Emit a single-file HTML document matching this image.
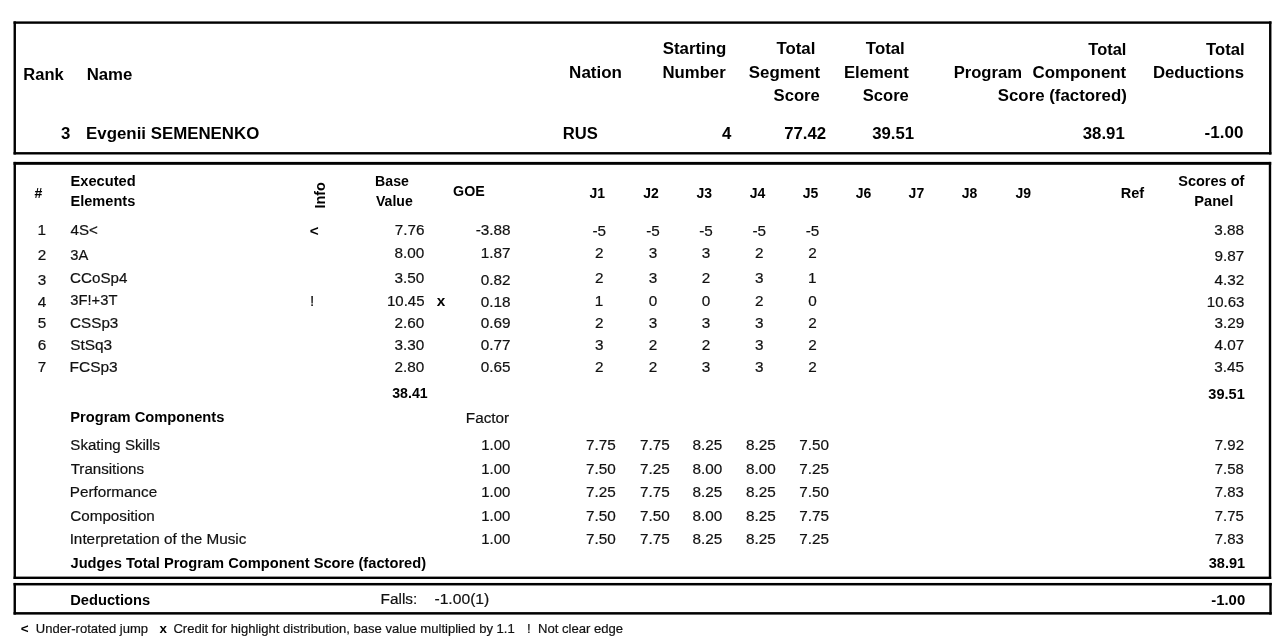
<!DOCTYPE html>
<html><head><meta charset="utf-8"><title>Judges Details per Skater</title>
<style>
html,body{margin:0;padding:0;background:#fff;width:1280px;height:639px;overflow:hidden}
svg{display:block;will-change:transform}
text{font-family:"Liberation Sans",Arial,Helvetica,sans-serif;fill:#000}
.b{font-weight:bold}
.r{font-weight:normal;fill:#111;stroke:#111;stroke-width:0.2px}
</style></head><body>
<svg width="1280" height="639" viewBox="0 0 1280 639">
<rect width="1280" height="639" fill="#fff"/>
<rect x="13.55" y="21.40" width="1257.90" height="2.40" fill="#000"/>
<rect x="13.55" y="152.10" width="1257.90" height="2.40" fill="#000"/>
<rect x="13.55" y="21.40" width="2.40" height="133.10" fill="#000"/>
<rect x="1269.05" y="21.40" width="2.40" height="133.10" fill="#000"/>
<rect x="13.55" y="161.90" width="1257.65" height="2.90" fill="#000"/>
<rect x="13.55" y="576.60" width="1257.65" height="2.40" fill="#000"/>
<rect x="13.55" y="161.90" width="2.40" height="417.10" fill="#000"/>
<rect x="1268.80" y="161.90" width="2.40" height="417.10" fill="#000"/>
<rect x="13.55" y="582.95" width="1258.15" height="2.50" fill="#000"/>
<rect x="13.55" y="612.10" width="1258.15" height="2.50" fill="#000"/>
<rect x="13.55" y="582.95" width="2.40" height="31.65" fill="#000"/>
<rect x="1269.30" y="582.95" width="2.40" height="31.65" fill="#000"/>
<text class="b" font-size="16.8" x="23.35" y="79.70" textLength="40.39" lengthAdjust="spacingAndGlyphs">Rank</text>
<text class="b" font-size="16.8" x="86.63" y="79.70" textLength="45.70" lengthAdjust="spacingAndGlyphs">Name</text>
<text class="b" font-size="16.8" x="569.11" y="77.60" textLength="52.89" lengthAdjust="spacingAndGlyphs">Nation</text>
<text class="b" font-size="16.8" x="662.66" y="54.20" textLength="63.71" lengthAdjust="spacingAndGlyphs">Starting</text>
<text class="b" font-size="16.8" x="662.43" y="77.60" textLength="63.27" lengthAdjust="spacingAndGlyphs">Number</text>
<text class="b" font-size="16.8" x="776.47" y="54.00" textLength="38.94" lengthAdjust="spacingAndGlyphs">Total</text>
<text class="b" font-size="16.8" x="748.86" y="77.60" textLength="71.29" lengthAdjust="spacingAndGlyphs">Segment</text>
<text class="b" font-size="16.8" x="773.57" y="101.00" textLength="46.25" lengthAdjust="spacingAndGlyphs">Score</text>
<text class="b" font-size="16.8" x="865.87" y="54.00" textLength="38.94" lengthAdjust="spacingAndGlyphs">Total</text>
<text class="b" font-size="16.8" x="843.94" y="77.60" textLength="64.82" lengthAdjust="spacingAndGlyphs">Element</text>
<text class="b" font-size="16.8" x="862.77" y="101.00" textLength="46.04" lengthAdjust="spacingAndGlyphs">Score</text>
<text class="b" font-size="16.8" x="1088.37" y="54.50" textLength="38.01" lengthAdjust="spacingAndGlyphs">Total</text>
<text class="b" font-size="16.8" x="953.64" y="77.50" textLength="68.39" lengthAdjust="spacingAndGlyphs">Program</text>
<text class="b" font-size="16.8" x="1032.56" y="77.50" textLength="93.65" lengthAdjust="spacingAndGlyphs">Component</text>
<text class="b" font-size="16.8" x="997.77" y="100.90" textLength="129.07" lengthAdjust="spacingAndGlyphs">Score (factored)</text>
<text class="b" font-size="16.8" x="1206.07" y="54.50" textLength="38.57" lengthAdjust="spacingAndGlyphs">Total</text>
<text class="b" font-size="16.8" x="1152.88" y="77.50" textLength="91.31" lengthAdjust="spacingAndGlyphs">Deductions</text>
<text class="b" font-size="16.8" x="60.99" y="138.80">3</text>
<text class="b" font-size="16.8" x="86.12" y="138.80" textLength="173.13" lengthAdjust="spacingAndGlyphs">Evgenii SEMENENKO</text>
<text class="b" font-size="16.8" x="562.84" y="138.70" textLength="35.06" lengthAdjust="spacingAndGlyphs">RUS</text>
<text class="b" font-size="16.8" x="721.90" y="138.70">4</text>
<text class="b" font-size="16.8" x="784.13" y="138.60" textLength="42.10" lengthAdjust="spacingAndGlyphs">77.42</text>
<text class="b" font-size="16.8" x="872.16" y="138.70" textLength="42.04" lengthAdjust="spacingAndGlyphs">39.51</text>
<text class="b" font-size="16.8" x="1082.76" y="138.70" textLength="42.04" lengthAdjust="spacingAndGlyphs">38.91</text>
<text class="b" font-size="16.8" x="1204.59" y="137.50" textLength="38.76" lengthAdjust="spacingAndGlyphs">-1.00</text>
<text class="b" font-size="14" x="34.40" y="198.30">#</text>
<text class="b" font-size="14" x="70.47" y="186.00" textLength="65.15" lengthAdjust="spacingAndGlyphs">Executed</text>
<text class="b" font-size="14" x="70.48" y="205.70" textLength="64.77" lengthAdjust="spacingAndGlyphs">Elements</text>
<text class="b" font-size="14" transform="translate(325.00 208.51) rotate(-90)" textLength="26.43" lengthAdjust="spacingAndGlyphs">Info</text>
<text class="b" font-size="14" x="375.11" y="186.40" textLength="33.73" lengthAdjust="spacingAndGlyphs">Base</text>
<text class="b" font-size="14" x="375.96" y="205.80" textLength="36.77" lengthAdjust="spacingAndGlyphs">Value</text>
<text class="b" font-size="14" x="453.07" y="195.80" textLength="31.64" lengthAdjust="spacingAndGlyphs">GOE</text>
<text class="b" font-size="14" x="589.40" y="197.80" textLength="15.57" lengthAdjust="spacingAndGlyphs">J1</text>
<text class="b" font-size="14" x="643.29" y="197.80" textLength="15.57" lengthAdjust="spacingAndGlyphs">J2</text>
<text class="b" font-size="14" x="696.56" y="197.80" textLength="15.57" lengthAdjust="spacingAndGlyphs">J3</text>
<text class="b" font-size="14" x="749.80" y="197.80" textLength="15.57" lengthAdjust="spacingAndGlyphs">J4</text>
<text class="b" font-size="14" x="802.80" y="197.80" textLength="15.57" lengthAdjust="spacingAndGlyphs">J5</text>
<text class="b" font-size="14" x="855.76" y="197.80" textLength="15.57" lengthAdjust="spacingAndGlyphs">J6</text>
<text class="b" font-size="14" x="908.62" y="197.80" textLength="15.57" lengthAdjust="spacingAndGlyphs">J7</text>
<text class="b" font-size="14" x="961.72" y="197.80" textLength="15.57" lengthAdjust="spacingAndGlyphs">J8</text>
<text class="b" font-size="14" x="1015.47" y="197.80" textLength="15.57" lengthAdjust="spacingAndGlyphs">J9</text>
<text class="b" font-size="14" x="1120.78" y="197.50" textLength="23.44" lengthAdjust="spacingAndGlyphs">Ref</text>
<text class="b" font-size="14" x="1178.23" y="186.20" textLength="66.24" lengthAdjust="spacingAndGlyphs">Scores of</text>
<text class="b" font-size="14" x="1194.27" y="205.50" textLength="39.01" lengthAdjust="spacingAndGlyphs">Panel</text>
<text class="r" font-size="15.3" x="37.54" y="235.40">1</text>
<text class="r" font-size="15.3" x="70.50" y="235.40" textLength="27.28" lengthAdjust="spacingAndGlyphs">4S&lt;</text>
<text class="r" font-size="15.3" x="37.75" y="260.40">2</text>
<text class="r" font-size="15.3" x="70.29" y="260.40" textLength="17.99" lengthAdjust="spacingAndGlyphs">3A</text>
<text class="r" font-size="15.3" x="37.79" y="284.70">3</text>
<text class="r" font-size="15.3" x="70.08" y="282.90" textLength="57.31" lengthAdjust="spacingAndGlyphs">CCoSp4</text>
<text class="r" font-size="15.3" x="37.79" y="307.20">4</text>
<text class="r" font-size="15.3" x="70.29" y="305.30" textLength="47.10" lengthAdjust="spacingAndGlyphs">3F!+3T</text>
<text class="r" font-size="15.3" x="37.76" y="327.80">5</text>
<text class="r" font-size="15.3" x="70.08" y="327.80" textLength="48.24" lengthAdjust="spacingAndGlyphs">CSSp3</text>
<text class="r" font-size="15.3" x="37.69" y="350.40">6</text>
<text class="r" font-size="15.3" x="70.15" y="350.40" textLength="41.98" lengthAdjust="spacingAndGlyphs">StSq3</text>
<text class="r" font-size="15.3" x="37.74" y="371.80">7</text>
<text class="r" font-size="15.3" x="69.58" y="371.80" textLength="48.15" lengthAdjust="spacingAndGlyphs">FCSp3</text>
<text class="b" font-size="15.3" x="309.72" y="235.50">&lt;</text>
<text class="r" font-size="15.3" x="309.98" y="305.70">!</text>
<text class="r" font-size="15.3" x="394.64" y="234.80" textLength="29.78" lengthAdjust="spacingAndGlyphs">7.76</text>
<text class="r" font-size="15.3" x="475.64" y="234.80" textLength="34.87" lengthAdjust="spacingAndGlyphs">-3.88</text>
<text class="r" font-size="15.3" x="394.57" y="257.80" textLength="29.78" lengthAdjust="spacingAndGlyphs">8.00</text>
<text class="r" font-size="15.3" x="480.84" y="257.80" textLength="29.78" lengthAdjust="spacingAndGlyphs">1.87</text>
<text class="r" font-size="15.3" x="394.57" y="283.00" textLength="29.78" lengthAdjust="spacingAndGlyphs">3.50</text>
<text class="r" font-size="15.3" x="480.84" y="284.60" textLength="29.78" lengthAdjust="spacingAndGlyphs">0.82</text>
<text class="r" font-size="15.3" x="387.01" y="305.50" textLength="37.57" lengthAdjust="spacingAndGlyphs">10.45</text>
<text class="r" font-size="15.3" x="480.74" y="307.20" textLength="29.78" lengthAdjust="spacingAndGlyphs">0.18</text>
<text class="r" font-size="15.3" x="394.57" y="327.80" textLength="29.78" lengthAdjust="spacingAndGlyphs">2.60</text>
<text class="r" font-size="15.3" x="480.80" y="327.80" textLength="29.78" lengthAdjust="spacingAndGlyphs">0.69</text>
<text class="r" font-size="15.3" x="394.57" y="350.40" textLength="29.78" lengthAdjust="spacingAndGlyphs">3.30</text>
<text class="r" font-size="15.3" x="480.84" y="350.40" textLength="29.78" lengthAdjust="spacingAndGlyphs">0.77</text>
<text class="r" font-size="15.3" x="394.57" y="371.80" textLength="29.78" lengthAdjust="spacingAndGlyphs">2.80</text>
<text class="r" font-size="15.3" x="480.71" y="371.80" textLength="29.78" lengthAdjust="spacingAndGlyphs">0.65</text>
<text class="b" font-size="15.3" x="436.65" y="305.50">x</text>
<text class="b" font-size="14" x="392.23" y="398.00" textLength="35.42" lengthAdjust="spacingAndGlyphs">38.41</text>
<text class="r" font-size="15.3" x="592.48" y="235.50" textLength="13.60" lengthAdjust="spacingAndGlyphs">-5</text>
<text class="r" font-size="15.3" x="646.18" y="235.50" textLength="13.60" lengthAdjust="spacingAndGlyphs">-5</text>
<text class="r" font-size="15.3" x="699.18" y="235.50" textLength="13.60" lengthAdjust="spacingAndGlyphs">-5</text>
<text class="r" font-size="15.3" x="752.38" y="235.50" textLength="13.60" lengthAdjust="spacingAndGlyphs">-5</text>
<text class="r" font-size="15.3" x="805.68" y="235.50" textLength="13.60" lengthAdjust="spacingAndGlyphs">-5</text>
<text class="r" font-size="15.3" x="595.05" y="258.00">2</text>
<text class="r" font-size="15.3" x="648.79" y="258.00">3</text>
<text class="r" font-size="15.3" x="701.79" y="258.00">3</text>
<text class="r" font-size="15.3" x="754.95" y="258.00">2</text>
<text class="r" font-size="15.3" x="808.25" y="258.00">2</text>
<text class="r" font-size="15.3" x="595.05" y="283.00">2</text>
<text class="r" font-size="15.3" x="648.79" y="283.00">3</text>
<text class="r" font-size="15.3" x="701.75" y="283.00">2</text>
<text class="r" font-size="15.3" x="754.99" y="283.00">3</text>
<text class="r" font-size="15.3" x="808.04" y="283.00">1</text>
<text class="r" font-size="15.3" x="594.84" y="305.50">1</text>
<text class="r" font-size="15.3" x="648.75" y="305.50">0</text>
<text class="r" font-size="15.3" x="701.75" y="305.50">0</text>
<text class="r" font-size="15.3" x="754.95" y="305.50">2</text>
<text class="r" font-size="15.3" x="808.25" y="305.50">0</text>
<text class="r" font-size="15.3" x="595.05" y="328.00">2</text>
<text class="r" font-size="15.3" x="648.79" y="328.00">3</text>
<text class="r" font-size="15.3" x="701.79" y="328.00">3</text>
<text class="r" font-size="15.3" x="754.99" y="328.00">3</text>
<text class="r" font-size="15.3" x="808.25" y="328.00">2</text>
<text class="r" font-size="15.3" x="595.09" y="350.40">3</text>
<text class="r" font-size="15.3" x="648.75" y="350.40">2</text>
<text class="r" font-size="15.3" x="701.75" y="350.40">2</text>
<text class="r" font-size="15.3" x="754.99" y="350.40">3</text>
<text class="r" font-size="15.3" x="808.25" y="350.40">2</text>
<text class="r" font-size="15.3" x="595.05" y="371.90">2</text>
<text class="r" font-size="15.3" x="648.75" y="371.90">2</text>
<text class="r" font-size="15.3" x="701.79" y="371.90">3</text>
<text class="r" font-size="15.3" x="754.99" y="371.90">3</text>
<text class="r" font-size="15.3" x="808.25" y="371.90">2</text>
<text class="r" font-size="15.3" x="1214.34" y="234.70" textLength="29.78" lengthAdjust="spacingAndGlyphs">3.88</text>
<text class="r" font-size="15.3" x="1214.44" y="260.80" textLength="29.78" lengthAdjust="spacingAndGlyphs">9.87</text>
<text class="r" font-size="15.3" x="1214.44" y="284.70" textLength="29.78" lengthAdjust="spacingAndGlyphs">4.32</text>
<text class="r" font-size="15.3" x="1206.81" y="307.20" textLength="37.50" lengthAdjust="spacingAndGlyphs">10.63</text>
<text class="r" font-size="15.3" x="1214.40" y="327.90" textLength="29.78" lengthAdjust="spacingAndGlyphs">3.29</text>
<text class="r" font-size="15.3" x="1214.44" y="350.20" textLength="29.78" lengthAdjust="spacingAndGlyphs">4.07</text>
<text class="r" font-size="15.3" x="1214.31" y="371.80" textLength="29.78" lengthAdjust="spacingAndGlyphs">3.45</text>
<text class="b" font-size="14" x="1208.32" y="398.50" textLength="36.44" lengthAdjust="spacingAndGlyphs">39.51</text>
<text class="b" font-size="14" x="70.27" y="421.60" textLength="154.08" lengthAdjust="spacingAndGlyphs">Program Components</text>
<text class="r" font-size="15.3" x="465.79" y="422.50" textLength="43.41" lengthAdjust="spacingAndGlyphs">Factor</text>
<text class="r" font-size="15.3" x="70.36" y="449.80" textLength="89.73" lengthAdjust="spacingAndGlyphs">Skating Skills</text>
<text class="r" font-size="15.3" x="481.31" y="449.80" textLength="29.02" lengthAdjust="spacingAndGlyphs">1.00</text>
<text class="r" font-size="15.3" x="586.04" y="449.90" textLength="29.78" lengthAdjust="spacingAndGlyphs">7.75</text>
<text class="r" font-size="15.3" x="640.04" y="449.90" textLength="29.78" lengthAdjust="spacingAndGlyphs">7.75</text>
<text class="r" font-size="15.3" x="692.60" y="449.90" textLength="29.78" lengthAdjust="spacingAndGlyphs">8.25</text>
<text class="r" font-size="15.3" x="746.10" y="449.90" textLength="29.78" lengthAdjust="spacingAndGlyphs">8.25</text>
<text class="r" font-size="15.3" x="799.32" y="449.90" textLength="29.78" lengthAdjust="spacingAndGlyphs">7.50</text>
<text class="r" font-size="15.3" x="1214.78" y="449.60" textLength="29.23" lengthAdjust="spacingAndGlyphs">7.92</text>
<text class="r" font-size="15.3" x="70.71" y="473.90" textLength="73.28" lengthAdjust="spacingAndGlyphs">Transitions</text>
<text class="r" font-size="15.3" x="481.31" y="473.90" textLength="29.02" lengthAdjust="spacingAndGlyphs">1.00</text>
<text class="r" font-size="15.3" x="586.02" y="474.30" textLength="29.78" lengthAdjust="spacingAndGlyphs">7.50</text>
<text class="r" font-size="15.3" x="640.04" y="474.30" textLength="29.78" lengthAdjust="spacingAndGlyphs">7.25</text>
<text class="r" font-size="15.3" x="692.58" y="474.30" textLength="29.78" lengthAdjust="spacingAndGlyphs">8.00</text>
<text class="r" font-size="15.3" x="746.08" y="474.30" textLength="29.78" lengthAdjust="spacingAndGlyphs">8.00</text>
<text class="r" font-size="15.3" x="799.34" y="474.30" textLength="29.78" lengthAdjust="spacingAndGlyphs">7.25</text>
<text class="r" font-size="15.3" x="1214.78" y="473.60" textLength="29.12" lengthAdjust="spacingAndGlyphs">7.58</text>
<text class="r" font-size="15.3" x="69.80" y="497.00" textLength="87.33" lengthAdjust="spacingAndGlyphs">Performance</text>
<text class="r" font-size="15.3" x="481.31" y="497.00" textLength="29.02" lengthAdjust="spacingAndGlyphs">1.00</text>
<text class="r" font-size="15.3" x="586.04" y="497.40" textLength="29.78" lengthAdjust="spacingAndGlyphs">7.25</text>
<text class="r" font-size="15.3" x="640.04" y="497.40" textLength="29.78" lengthAdjust="spacingAndGlyphs">7.75</text>
<text class="r" font-size="15.3" x="692.60" y="497.40" textLength="29.78" lengthAdjust="spacingAndGlyphs">8.25</text>
<text class="r" font-size="15.3" x="746.10" y="497.40" textLength="29.78" lengthAdjust="spacingAndGlyphs">8.25</text>
<text class="r" font-size="15.3" x="799.32" y="497.40" textLength="29.78" lengthAdjust="spacingAndGlyphs">7.50</text>
<text class="r" font-size="15.3" x="1214.78" y="497.20" textLength="29.12" lengthAdjust="spacingAndGlyphs">7.83</text>
<text class="r" font-size="15.3" x="70.28" y="520.80" textLength="84.56" lengthAdjust="spacingAndGlyphs">Composition</text>
<text class="r" font-size="15.3" x="481.31" y="520.80" textLength="29.02" lengthAdjust="spacingAndGlyphs">1.00</text>
<text class="r" font-size="15.3" x="586.02" y="521.00" textLength="29.78" lengthAdjust="spacingAndGlyphs">7.50</text>
<text class="r" font-size="15.3" x="640.02" y="521.00" textLength="29.78" lengthAdjust="spacingAndGlyphs">7.50</text>
<text class="r" font-size="15.3" x="692.58" y="521.00" textLength="29.78" lengthAdjust="spacingAndGlyphs">8.00</text>
<text class="r" font-size="15.3" x="746.10" y="521.00" textLength="29.78" lengthAdjust="spacingAndGlyphs">8.25</text>
<text class="r" font-size="15.3" x="799.34" y="521.00" textLength="29.78" lengthAdjust="spacingAndGlyphs">7.75</text>
<text class="r" font-size="15.3" x="1214.78" y="520.70" textLength="29.09" lengthAdjust="spacingAndGlyphs">7.75</text>
<text class="r" font-size="15.3" x="69.64" y="544.20" textLength="176.76" lengthAdjust="spacingAndGlyphs">Interpretation of the Music</text>
<text class="r" font-size="15.3" x="481.31" y="544.20" textLength="29.02" lengthAdjust="spacingAndGlyphs">1.00</text>
<text class="r" font-size="15.3" x="586.02" y="544.20" textLength="29.78" lengthAdjust="spacingAndGlyphs">7.50</text>
<text class="r" font-size="15.3" x="640.04" y="544.20" textLength="29.78" lengthAdjust="spacingAndGlyphs">7.75</text>
<text class="r" font-size="15.3" x="692.60" y="544.20" textLength="29.78" lengthAdjust="spacingAndGlyphs">8.25</text>
<text class="r" font-size="15.3" x="746.10" y="544.20" textLength="29.78" lengthAdjust="spacingAndGlyphs">8.25</text>
<text class="r" font-size="15.3" x="799.34" y="544.20" textLength="29.78" lengthAdjust="spacingAndGlyphs">7.25</text>
<text class="r" font-size="15.3" x="1214.78" y="544.20" textLength="29.12" lengthAdjust="spacingAndGlyphs">7.83</text>
<text class="b" font-size="14" x="70.53" y="567.70" textLength="355.55" lengthAdjust="spacingAndGlyphs">Judges Total Program Component Score (factored)</text>
<text class="b" font-size="14" x="1208.72" y="567.50" textLength="36.44" lengthAdjust="spacingAndGlyphs">38.91</text>
<text class="b" font-size="14" x="70.17" y="604.80" textLength="79.99" lengthAdjust="spacingAndGlyphs">Deductions</text>
<text class="r" font-size="15.3" x="380.59" y="604.10" textLength="36.66" lengthAdjust="spacingAndGlyphs">Falls:</text>
<text class="r" font-size="15.3" x="434.45" y="604.30" textLength="54.87" lengthAdjust="spacingAndGlyphs">-1.00(1)</text>
<text class="b" font-size="14" x="1211.27" y="604.90" textLength="33.89" lengthAdjust="spacingAndGlyphs">-1.00</text>
<text class="b" font-size="13.4" x="20.75" y="632.50">&lt;</text>
<text class="r" font-size="13.4" x="35.74" y="632.50" textLength="112.30" lengthAdjust="spacingAndGlyphs">Under-rotated jump</text>
<text class="b" font-size="13.4" x="159.40" y="632.50">x</text>
<text class="r" font-size="13.4" x="173.39" y="632.50" textLength="341.40" lengthAdjust="spacingAndGlyphs">Credit for highlight distribution, base value multiplied by 1.1</text>
<text class="r" font-size="13.4" x="527.04" y="632.50">!</text>
<text class="r" font-size="13.4" x="537.93" y="632.50" textLength="85.16" lengthAdjust="spacingAndGlyphs">Not clear edge</text>
</svg>
</body></html>
